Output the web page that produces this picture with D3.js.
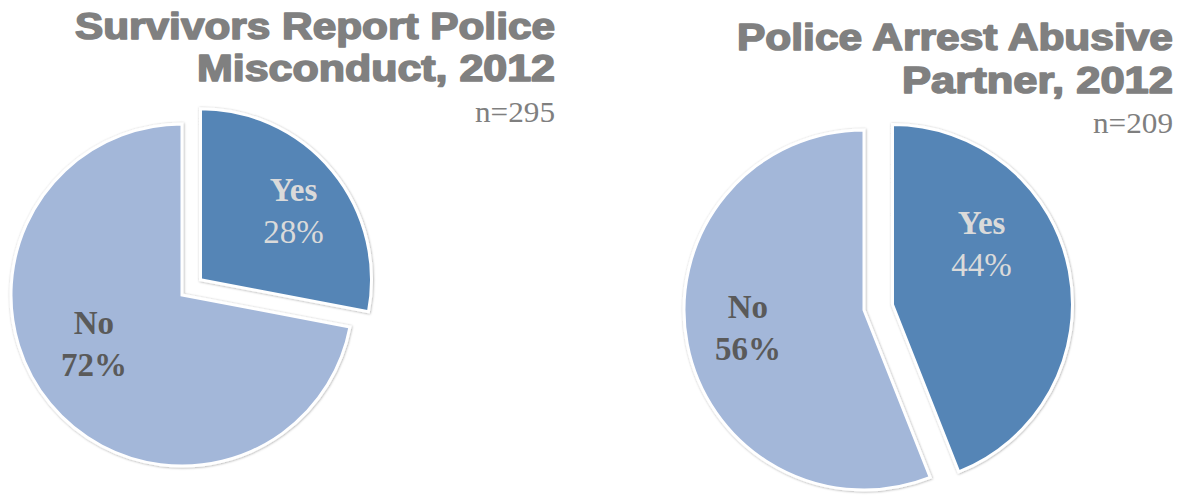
<!DOCTYPE html>
<html>
<head>
<meta charset="utf-8">
<script src="https://cdn.jsdelivr.net/npm/d3@7/dist/d3.min.js"></script>
<style>
  html, body { margin: 0; padding: 0; background: #fff; }
  svg { display: block; }
</style>
</head>
<body>
<svg id="chart" width="1182" height="498"></svg>
<script>
// ---- data ----
const categories = ["Yes", "No"];
const misconductValues = [28, 72];
const arrestValues = [44, 56];
const misconductTitle = ["Survivors Report Police", "Misconduct, 2012"];
const arrestTitle = ["Police Arrest Abusive", "Partner, 2012"];
const sampleSizes = ["n=295", "n=209"];

// ---- layout ----
const colors = { Yes: "#5585b6", No: "#a3b7d9" };
const labelColors = { Yes: "#dadada", No: "#5a5a5a" };

const charts = [
  {
    values: misconductValues, title: misconductTitle, n: sampleSizes[0],
    cx: 182, cy: 295, r: 171, explode: 24,
    titleRight: 555, titleBase: [39, 81], titleWidth: [480, 358], titleSize: 36, nBase: 122,
    labelShift: { Yes: [14, -3], No: [-9, -16] }
  },
  {
    values: arrestValues, title: arrestTitle, n: sampleSizes[1],
    cx: 864, cy: 310, r: 180, explode: 29,
    titleRight: 1173, titleBase: [50, 93], titleWidth: [436, 271], titleSize: 37, nBase: 133,
    labelShift: { Yes: [-17, -40], No: [-10, -2] }
  }
];

const svg = d3.select("#chart");
const defs = svg.append("defs");
const f = defs.append("filter").attr("id", "shadow")
  .attr("x", "-10%").attr("y", "-10%").attr("width", "120%").attr("height", "120%");
f.append("feDropShadow").attr("dx", 0.5).attr("dy", 0.5).attr("stdDeviation", 1.2)
  .attr("flood-color", "#000").attr("flood-opacity", 0.35);

charts.forEach(c => {
  const data = categories.map((k, i) => ({ key: k, value: c.values[i] }));
  const pie = d3.pie().sort(null).value(d => d.value).startAngle(0).endAngle(2 * Math.PI);
  const arcs = pie(data);
  const arc = d3.arc().innerRadius(0).outerRadius(c.r);
  const labelArc = d3.arc().innerRadius(c.r * 0.6).outerRadius(c.r * 0.6);

  const g = svg.append("g").attr("transform", `translate(${c.cx},${c.cy})`);

  arcs.forEach(a => {
    const mid = (a.startAngle + a.endAngle) / 2;
    const ex = a.data.key === "Yes" ? c.explode : 0;
    const ox = ex * Math.sin(mid), oy = -ex * Math.cos(mid);
    const sg = g.append("g").attr("transform", `translate(${ox},${oy})`);
    sg.append("path")
      .attr("d", arc(a))
      .attr("fill", colors[a.data.key])
      .attr("stroke", "#ffffff")
      .attr("stroke-width", 3)
      .attr("stroke-linejoin", "miter")
      .attr("filter", "url(#shadow)");

    const [lx, ly] = labelArc.centroid(a);
    const sh = c.labelShift[a.data.key];
    const tx = lx + sh[0], ty = ly + sh[1];
    const isYes = a.data.key === "Yes";
    sg.append("text")
      .attr("x", tx).attr("y", ty - 10)
      .attr("text-anchor", "middle")
      .attr("font-family", "'Liberation Serif', 'DejaVu Serif', serif")
      .attr("font-size", 33).attr("font-weight", "bold")
      .attr("fill", labelColors[a.data.key])
      .text(a.data.key);
    sg.append("text")
      .attr("x", tx).attr("y", ty + 32)
      .attr("text-anchor", "middle")
      .attr("font-family", "'Liberation Serif', 'DejaVu Serif', serif")
      .attr("font-size", 33).attr("font-weight", isYes ? "normal" : "bold")
      .attr("fill", labelColors[a.data.key])
      .text(a.data.value + "%");
  });

  // titles
  c.title.forEach((line, i) => {
    svg.append("text")
      .attr("x", c.titleRight).attr("y", c.titleBase[i])
      .attr("text-anchor", "end")
      .attr("font-family", "'Liberation Sans', Arial, sans-serif")
      .attr("font-weight", "bold")
      .attr("font-size", c.titleSize)
      .attr("fill", "#808080")
      .attr("stroke", "#808080").attr("stroke-width", 1.6).attr("stroke-linejoin", "round")
      .attr("textLength", c.titleWidth[i])
      .attr("lengthAdjust", "spacingAndGlyphs")
      .text(line);
  });
  svg.append("text")
    .attr("x", c.titleRight).attr("y", c.nBase)
    .attr("text-anchor", "end")
    .attr("font-family", "'Liberation Serif', 'DejaVu Serif', serif")
    .attr("font-size", 29)
    .attr("fill", "#7f7f7f")
    .attr("textLength", 80)
    .attr("lengthAdjust", "spacingAndGlyphs")
    .text(c.n);
});
</script>
</body>
</html>
